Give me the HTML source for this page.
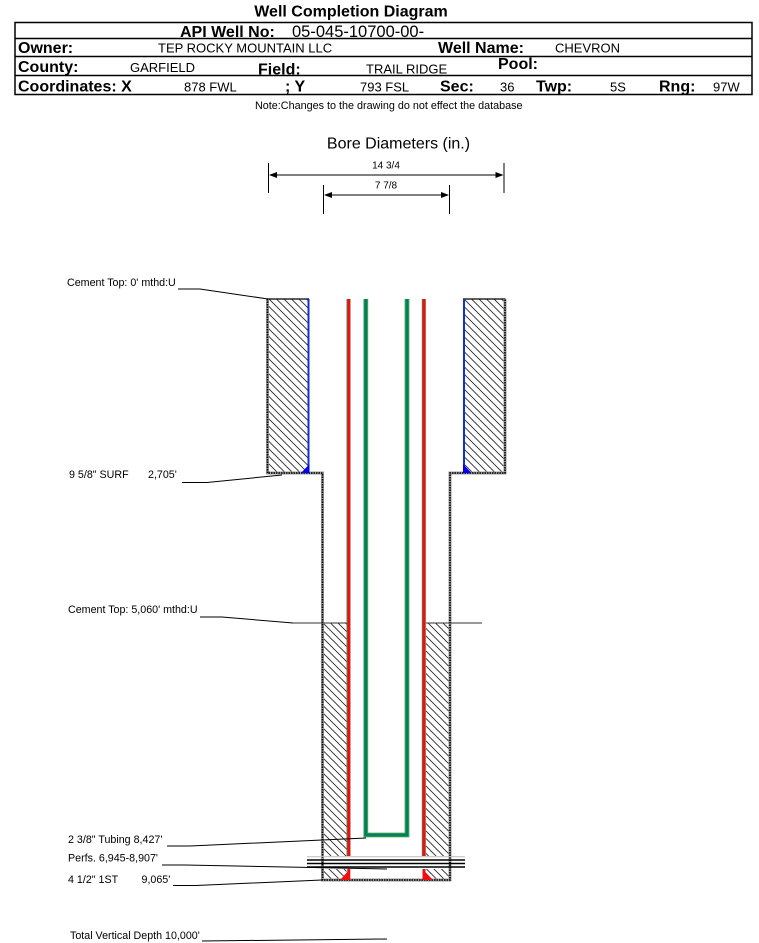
<!DOCTYPE html>
<html><head><meta charset="utf-8"><style>
html,body{margin:0;padding:0;background:#fff;}
svg{display:block;}
text{font-family:"Liberation Sans",Arial,sans-serif;fill:#000;}
.b{font-weight:bold;font-size:16px;}
.v{font-size:13px;}
.l{font-size:10.7px;}
</style></head><body>
<svg width="759" height="943" viewBox="0 0 759 943" xmlns="http://www.w3.org/2000/svg">
<defs>
<pattern id="h" width="7.5" height="7.5" patternUnits="userSpaceOnUse">
<path d="M0,0 L7.5,7.5 M-1,6.5 L1,8.5 M6.5,-1 L8.5,1" stroke="#222" stroke-width="0.8"/>
</pattern>
</defs>
<rect width="759" height="943" fill="#fff"/>

<!-- Header -->
<text x="351" y="16.5" text-anchor="middle" style="font-weight:bold;font-size:16px">Well Completion Diagram</text>
<g stroke="#000" stroke-width="1.5" fill="none">
<rect x="15" y="22.5" width="737" height="72"/>
<line x1="15" y1="38.5" x2="752" y2="38.5"/>
<line x1="15" y1="56.5" x2="752" y2="56.5"/>
<line x1="15" y1="75.5" x2="752" y2="75.5"/>
</g>
<text class="b" x="180" y="37">API Well No:</text>
<text x="292" y="37" style="font-size:16.5px">05-045-10700-00-</text>

<text class="b" x="18" y="53">Owner:</text>
<text class="v" x="158" y="52.5">TEP ROCKY MOUNTAIN LLC</text>
<text class="b" x="438" y="53">Well Name:</text>
<text class="v" x="555" y="52.5">CHEVRON</text>

<text class="b" x="18" y="72">County:</text>
<text class="v" x="130" y="72">GARFIELD</text>
<text class="b" x="258" y="74.5">Field:</text>
<text class="v" x="366" y="73.5">TRAIL RIDGE</text>
<text class="b" x="498" y="69">Pool:</text>

<text class="b" x="18" y="91.5">Coordinates: X</text>
<text class="v" x="184" y="91.5">878 FWL</text>
<text class="b" x="285" y="91.5">; Y</text>
<text class="v" x="360" y="91.5">793 FSL</text>
<text class="b" x="440" y="91.5">Sec:</text>
<text class="v" x="500" y="91.5">36</text>
<text class="b" x="536" y="91.5">Twp:</text>
<text class="v" x="610" y="91.5">5S</text>
<text class="b" x="659" y="91.5">Rng:</text>
<text class="v" x="713" y="91.5">97W</text>

<text x="255" y="109" style="font-size:10.8px">Note:Changes to the drawing do not effect the database</text>

<!-- Bore diameters -->
<text x="398.5" y="148.5" text-anchor="middle" style="font-size:16px">Bore Diameters (in.)</text>
<text x="386" y="168.5" text-anchor="middle" style="font-size:10px">14 3/4</text>
<text x="386" y="188.5" text-anchor="middle" style="font-size:10px">7 7/8</text>
<g stroke="#000" stroke-width="1">
<line x1="268.5" y1="163" x2="268.5" y2="193"/>
<line x1="504" y1="163" x2="504" y2="193"/>
<line x1="270" y1="175" x2="502" y2="175"/>
<line x1="323.5" y1="185" x2="323.5" y2="214"/>
<line x1="449.5" y1="185" x2="449.5" y2="214"/>
<line x1="325" y1="195" x2="448" y2="195"/>
</g>
<g fill="#000">
<polygon points="269,175 277,172 277,178"/>
<polygon points="503.5,175 495.5,172 495.5,178"/>
<polygon points="324,195 332,192 332,198"/>
<polygon points="449,195 441,192 441,198"/>
</g>

<!-- Surface hatch blocks -->
<rect x="267.5" y="299" width="41" height="174" fill="url(#h)"/>
<rect x="463.5" y="299" width="41.5" height="174" fill="url(#h)"/>
<!-- Lower hatch -->
<rect x="323.5" y="623" width="23" height="257" fill="url(#h)"/>
<rect x="426" y="623" width="23" height="257" fill="url(#h)"/>
<rect x="320" y="856" width="134" height="13" fill="#fff"/>

<!-- top edges -->
<g stroke="#000" stroke-width="1.2">
<line x1="267" y1="299" x2="309" y2="299"/>
<line x1="463" y1="299" x2="505.5" y2="299"/>
</g>
<!-- dotted walls -->
<g fill="none">
<path d="M267.5,299 V473 H322.5 V880 H450 V473 H505 V299" stroke="#999" stroke-width="3"/>
<path d="M267.5,299 V473 H322.5 V880 H450 V473 H505 V299" stroke="#000" stroke-width="1.6" stroke-dasharray="1.5 1"/>
</g>

<!-- blue surface casing -->
<g stroke="#1030d0" stroke-width="2">
<line x1="308.5" y1="299" x2="308.5" y2="473"/>
<line x1="464" y1="299" x2="464" y2="473"/>
</g>
<polygon points="301,473 309.5,473 309.5,464" fill="#0000ee"/>
<polygon points="463,464 463,473 471.5,473" fill="#0000ee"/>

<!-- cement top line -->
<g stroke="#333" stroke-width="1">
<line x1="293" y1="623" x2="347" y2="623"/>
<line x1="426" y1="623" x2="482" y2="623"/>
</g>

<!-- red production casing -->
<g>
<rect x="346.5" y="299" width="4" height="557" fill="#3f9a4f"/>
<rect x="347.3" y="299" width="3" height="557" fill="#ee1010"/>
<rect x="421.8" y="299" width="4" height="557" fill="#3f9a4f"/>
<rect x="422.5" y="299" width="3" height="557" fill="#ee1010"/>
<rect x="347.3" y="869" width="3" height="11" fill="#ee1010"/>
<rect x="422.5" y="869" width="3" height="11" fill="#ee1010"/>
<polygon points="340,880 350,880 350,869" fill="#ee1010"/>
<polygon points="422.5,869 422.5,880 433,880" fill="#ee1010"/>
</g>

<!-- tubing -->
<path d="M365.8,299 V835 H407 V299" fill="none" stroke="#55aa55" stroke-width="4.8"/>
<path d="M365.8,299 V835 H407 V299" fill="none" stroke="#008060" stroke-width="3"/>

<!-- perfs -->
<line x1="307" y1="856.7" x2="465" y2="856.7" stroke="#bbb" stroke-width="1"/>
<g stroke="#000" stroke-width="1.6">
<line x1="307" y1="860" x2="465" y2="860"/>
<line x1="307" y1="863.5" x2="465" y2="863.5"/>
<line x1="307" y1="867" x2="465" y2="867"/>
</g>

<!-- labels and leaders -->
<text class="l" x="67" y="286">Cement Top: 0' mthd:U</text>
<polyline points="178,289 200,289 268,299" fill="none" stroke="#000" stroke-width="1"/>

<text class="l" x="69" y="478">9 5/8" SURF</text>
<text class="l" x="148" y="478">2,705'</text>
<polyline points="182,482.5 207,482.5 282,475" fill="none" stroke="#000" stroke-width="1"/>

<text class="l" x="68" y="613">Cement Top: 5,060' mthd:U</text>
<polyline points="200,617 222,617 293,623" fill="none" stroke="#000" stroke-width="1"/>

<text class="l" x="68" y="843">2 3/8" Tubing 8,427'</text>
<polyline points="167,846 190,846 366,838" fill="none" stroke="#000" stroke-width="1"/>

<text class="l" x="68" y="861.5">Perfs. 6,945-8,907'</text>
<polyline points="162,865 185,865 387,869" fill="none" stroke="#000" stroke-width="1"/>

<text class="l" x="68" y="883">4 1/2" 1ST</text>
<text class="l" x="141.5" y="883">9,065'</text>
<polyline points="173,885.5 196,885.5 322,880" fill="none" stroke="#000" stroke-width="1"/>

<text class="l" x="70" y="939">Total Vertical Depth 10,000'</text>
<line x1="202" y1="941" x2="387" y2="939" stroke="#000" stroke-width="1"/>
</svg>
</body></html>
